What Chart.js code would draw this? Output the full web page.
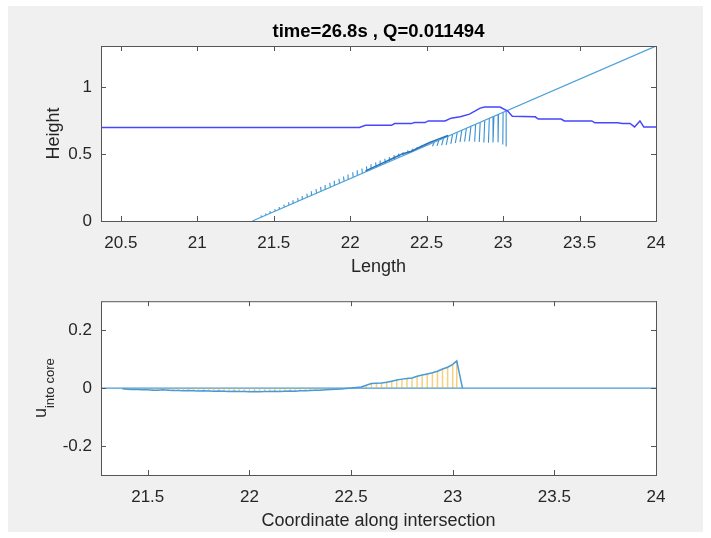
<!DOCTYPE html>
<html>
<head>
<meta charset="utf-8">
<script src="https://cdn.jsdelivr.net/npm/chart.js@4.4.1/dist/chart.umd.min.js"></script>
<style>
  html, body { margin: 0; padding: 0; background: #fff; }
  #fig { position: absolute; left: 8px; top: 6px; width: 695px; height: 526px; background: #f0f0f0; }
  canvas { position: absolute; left: 0; }
  #c1 { top: 0; }
  #c2 { top: 282px; }
</style>
</head>
<body>
<div id="fig"></div>
<canvas id="c1" width="711" height="290"></canvas>
<canvas id="c2" width="711" height="256"></canvas>
<script>
var plotTitle = 'time=26.8s , Q=0.011494';

// upper panel: free surface height and sloping bed
var heightX = [20.37, 22.06, 22.10, 22.27, 22.29, 22.40, 22.42, 22.49, 22.51, 22.62, 22.66, 22.72, 22.78, 22.85, 22.88, 22.98,
               23.03, 23.06, 23.21, 23.23, 23.38, 23.40, 23.58, 23.60, 23.75, 23.78, 23.83, 23.86, 23.895, 23.92, 24.0];
var heightY = [0.70, 0.70, 0.716, 0.716, 0.729, 0.729, 0.737, 0.737, 0.749, 0.749, 0.77, 0.78, 0.80, 0.845, 0.853, 0.853,
               0.823, 0.784, 0.78, 0.763, 0.763, 0.749, 0.749, 0.735, 0.735, 0.73, 0.73, 0.704, 0.749, 0.704, 0.704];
var bedX = [21.36, 24.0];
var bedY = [0, 1.31];
var surfX = [22.10, 22.20, 22.28, 22.34, 22.40, 22.46, 22.52, 22.58, 22.64];
var surfY = [0.375, 0.428, 0.470, 0.502, 0.522, 0.556, 0.588, 0.615, 0.640];

// velocity hairs: start on the bed, end at (hairX1, hairY1)
var hairX  = [21.42, 21.45, 21.48, 21.51, 21.54, 21.57, 21.60, 21.63, 21.66, 21.69, 21.72, 21.75, 21.78, 21.81, 21.84, 21.87,
              21.90, 21.93, 21.96, 21.99, 22.02, 22.05, 22.08, 22.11, 22.14, 22.17, 22.20, 22.23, 22.26, 22.29, 22.32, 22.35,
              22.38, 22.41, 22.44, 22.47, 22.50,
              22.55, 22.58, 22.61, 22.64, 22.67, 22.70, 22.73, 22.76, 22.79, 22.82, 22.85, 22.88, 22.91, 22.94, 22.97, 23.00, 23.02];
var hairY0 = [0.030, 0.045, 0.060, 0.074, 0.089, 0.104, 0.119, 0.134, 0.149, 0.164, 0.179, 0.194, 0.208, 0.223, 0.238, 0.253,
              0.268, 0.283, 0.298, 0.313, 0.328, 0.342, 0.357, 0.372, 0.387, 0.402, 0.417, 0.432, 0.447, 0.462, 0.476, 0.491,
              0.506, 0.521, 0.536, 0.551, 0.566,
              0.591, 0.605, 0.620, 0.635, 0.650, 0.665, 0.680, 0.695, 0.710, 0.725, 0.739, 0.754, 0.769, 0.784, 0.799, 0.814, 0.824];
var hairX1 = [21.416, 21.446, 21.476, 21.506, 21.536, 21.566, 21.596, 21.626, 21.656, 21.686, 21.716, 21.746, 21.776, 21.806, 21.836, 21.866,
              21.896, 21.926, 21.956, 21.986, 22.016, 22.046, 22.076, 22.106, 22.136, 22.166, 22.196, 22.226, 22.256, 22.286, 22.316, 22.346,
              22.376, 22.406, 22.436, 22.466, 22.496,
              22.538, 22.568, 22.598, 22.628, 22.658, 22.688, 22.718, 22.748, 22.778, 22.814, 22.844, 22.874, 22.904, 22.934, 22.967, 22.998, 23.02];
var hairY1 = [0.042, 0.057, 0.074, 0.089, 0.105, 0.122, 0.139, 0.156, 0.172, 0.188, 0.205, 0.222, 0.238, 0.255, 0.270, 0.286,
              0.302, 0.316, 0.333, 0.349, 0.364, 0.380, 0.393, 0.409, 0.424, 0.439, 0.452, 0.466, 0.480, 0.493, 0.504, 0.515,
              0.528, 0.540, 0.552, 0.564, 0.578,
              0.560, 0.562, 0.566, 0.570, 0.578, 0.584, 0.590, 0.594, 0.596, 0.594, 0.592, 0.588, 0.586, 0.588, 0.590, 0.572, 0.558];

var lenTicks = [20.5, 21, 21.5, 22, 22.5, 23, 23.5, 24];
var lenTickLabels = ['20.5', '21', '21.5', '22', '22.5', '23', '23.5', '24'];
var heightTicks = [0, 0.5, 1];
var heightTickLabels = ['0', '0.5', '1'];

// lower panel: velocity into core along the intersection
var uX = [21.375, 21.4, 21.425, 21.45, 21.475, 21.5, 21.525, 21.55, 21.575, 21.6, 21.625, 21.65, 21.675, 21.7, 21.725, 21.75,
          21.775, 21.8, 21.825, 21.85, 21.875, 21.9, 21.925, 21.95, 21.975, 22.0, 22.025, 22.05, 22.075, 22.1, 22.125, 22.15,
          22.175, 22.2, 22.225, 22.25, 22.275, 22.3, 22.325, 22.35, 22.375, 22.4, 22.425, 22.45, 22.475, 22.5,
          22.525, 22.55, 22.575, 22.6, 22.625, 22.65, 22.675, 22.7, 22.725, 22.75, 22.775, 22.8, 22.825, 22.85, 22.875, 22.9,
          22.925, 22.95, 22.975, 23.0, 23.02, 23.048];
var uVal = [-0.002, -0.004, -0.005, -0.005, -0.006, -0.006, -0.007, -0.007, -0.006, -0.007, -0.008, -0.008, -0.009, -0.008, -0.009, -0.010,
            -0.009, -0.010, -0.011, -0.010, -0.011, -0.012, -0.011, -0.012, -0.012, -0.013, -0.012, -0.013, -0.012, -0.012, -0.011, -0.012,
            -0.011, -0.010, -0.011, -0.009, -0.009, -0.008, -0.007, -0.007, -0.006, -0.005, -0.004, -0.003, -0.001, 0.000,
            0.002, 0.004, 0.010, 0.016, 0.017, 0.018, 0.020, 0.024, 0.028, 0.031, 0.033, 0.035, 0.041, 0.045, 0.049, 0.053,
            0.058, 0.066, 0.072, 0.082, 0.094, 0];
var zeroX = [21.27, 24];
var coordTicks = [21.5, 22, 22.5, 23, 23.5, 24];
var coordTickLabels = ['21.5', '22', '22.5', '23', '23.5', '24'];
var uTicks = [-0.2, 0, 0.2];
var uTickLabels = ['-0.2', '0', '0.2'];

Chart.defaults.font.family = '"Liberation Sans", Arial, sans-serif';
Chart.defaults.color = '#262626';

function pts(xs, ys) {
  return xs.map(function (x, i) { return { x: x, y: ys[i] }; });
}

// white axes background, box outline and inward tick marks
var axesBox = {
  id: 'axesBox',
  beforeDraw: function (chart) {
    var a = chart.chartArea, ctx = chart.ctx;
    ctx.save();
    ctx.fillStyle = '#ffffff';
    ctx.fillRect(a.left, a.top, a.right - a.left, a.bottom - a.top);
    ctx.restore();
  },
  afterDraw: function (chart) {
    var a = chart.chartArea, ctx = chart.ctx;
    var sx = chart.scales.x, sy = chart.scales.y;
    ctx.save();
    ctx.strokeStyle = '#555555';
    ctx.lineWidth = 1;
    ctx.beginPath();
    sx.ticks.forEach(function (t) {
      var px = Math.round(sx.getPixelForValue(t.value)) + 0.5;
      ctx.moveTo(px, a.bottom); ctx.lineTo(px, a.bottom - 5);
      ctx.moveTo(px, a.top); ctx.lineTo(px, a.top + 5);
    });
    sy.ticks.forEach(function (t) {
      var py = Math.round(sy.getPixelForValue(t.value)) + 0.5;
      ctx.moveTo(a.left, py); ctx.lineTo(a.left + 5, py);
      ctx.moveTo(a.right, py); ctx.lineTo(a.right - 5, py);
    });
    ctx.stroke();
    ctx.strokeRect(a.left + 0.5, a.top + 0.5, a.right - a.left, a.bottom - a.top);
    ctx.restore();
  }
};

var panelTitle = {
  id: 'panelTitle',
  afterDraw: function (chart, args, opts) {
    if (!opts.text) return;
    var a = chart.chartArea, ctx = chart.ctx;
    ctx.save();
    ctx.font = 'bold 18.5px "Liberation Sans", Arial, sans-serif';
    ctx.fillStyle = '#000';
    ctx.textAlign = 'center';
    ctx.textBaseline = 'middle';
    ctx.fillText(opts.text, (a.left + a.right) / 2, opts.y);
    ctx.restore();
  }
};

// y label with subscript: u_{into core}
var subLabel = {
  id: 'subLabel',
  afterDraw: function (chart, args, opts) {
    if (!opts.main) return;
    var a = chart.chartArea, ctx = chart.ctx;
    ctx.save();
    ctx.fillStyle = '#262626';
    ctx.font = '18px "Liberation Sans", Arial, sans-serif';
    var w1 = ctx.measureText(opts.main).width;
    ctx.font = '13px "Liberation Sans", Arial, sans-serif';
    var w2 = ctx.measureText(opts.sub).width;
    ctx.translate(opts.x, (a.top + a.bottom) / 2);
    ctx.rotate(-Math.PI / 2);
    var x0 = -(w1 + w2) / 2;
    ctx.textAlign = 'left';
    ctx.textBaseline = 'alphabetic';
    ctx.font = '18px "Liberation Sans", Arial, sans-serif';
    ctx.fillText(opts.main, x0, 0);
    ctx.font = '13px "Liberation Sans", Arial, sans-serif';
    ctx.fillText(opts.sub, x0 + w1, 8);
    ctx.restore();
  }
};

function segments(x0, y0, x1, y1) {
  var out = [];
  for (var i = 0; i < x0.length; i++) {
    out.push({ x: x0[i], y: y0[i] }, { x: x1[i], y: y1[i] }, { x: x1[i], y: null });
  }
  return out;
}

function linearAxis(min, max, ticks, labels, fitSize, horizontal) {
  return {
    type: 'linear', min: min, max: max,
    afterBuildTicks: function (s) { s.ticks = ticks.map(function (v) { return { value: v }; }); },
    afterFit: function (s) { if (horizontal) s.height = fitSize; else s.width = fitSize; },
    grid: { display: false, drawTicks: false },
    border: { display: false },
    ticks: {
      autoSkip: false, maxRotation: 0, font: { size: 17 }, color: '#262626',
      padding: horizontal ? 12 : 9,
      callback: function (v, i) { return labels[i]; }
    }
  };
}

var x1Axis = linearAxis(20.37, 24, lenTicks, lenTickLabels, 69, true);
x1Axis.title = { display: true, text: 'Length', font: { size: 18 }, color: '#262626', padding: { top: 0, bottom: 12 } };
var y1Axis = linearAxis(0, 1.31, heightTicks, heightTickLabels, 101, false);
y1Axis.title = { display: true, text: 'Height', font: { size: 18 }, color: '#262626', padding: { top: 43, bottom: 0 } };

new Chart(document.getElementById('c1'), {
  type: 'scatter',
  data: {
    datasets: [
      { data: pts(heightX, heightY), showLine: true, borderColor: '#4646ff', borderWidth: 1.5, pointRadius: 0, order: 0 },
      { data: pts(bedX, bedY), showLine: true, borderColor: '#4ea2da', borderWidth: 1.2, pointRadius: 0, order: 2 },
      { data: pts(surfX, surfY), showLine: true, borderColor: '#2a70b8', borderWidth: 1.5, pointRadius: 0, order: 1 },
      { data: segments(hairX, hairY0, hairX1, hairY1), showLine: true, spanGaps: false,
        borderColor: '#3a90d0', borderWidth: 1.1, pointRadius: 0, order: 3 }
    ]
  },
  options: {
    responsive: false, animation: false,
    layout: { padding: { top: 46, right: 55, left: 0, bottom: 0 } },
    plugins: {
      legend: { display: false }, tooltip: { enabled: false },
      panelTitle: { text: plotTitle, y: 32 }
    },
    scales: { x: x1Axis, y: y1Axis }
  },
  plugins: [axesBox, panelTitle]
});

var x2Axis = linearAxis(21.27, 24, coordTicks, coordTickLabels, 63, true);
x2Axis.title = { display: true, text: 'Coordinate along intersection', font: { size: 18 }, color: '#262626', padding: { top: 0, bottom: 6 } };
var y2Axis = linearAxis(-0.3, 0.3, uTicks, uTickLabels, 101, false);

new Chart(document.getElementById('c2'), {
  type: 'scatter',
  data: {
    datasets: [
      { data: pts(uX, uVal), showLine: true, borderColor: '#4a9ad6', borderWidth: 1.5, pointRadius: 0, order: 0 },
      { data: segments(uX, uX.map(function () { return 0; }), uX, uVal), showLine: true, spanGaps: false,
        borderColor: 'rgba(240,176,40,0.6)', borderWidth: 1.5, pointRadius: 0, order: 1 },
      { data: pts(zeroX, [0, 0]), showLine: true, borderColor: '#4a9ad6', borderWidth: 1.2, pointRadius: 0, order: 2 }
    ]
  },
  options: {
    responsive: false, animation: false,
    layout: { padding: { top: 5, right: 55, left: 0, bottom: 0 } },
    plugins: {
      legend: { display: false }, tooltip: { enabled: false },
      subLabel: { main: 'u', sub: 'into core', x: 46 }
    },
    scales: { x: x2Axis, y: y2Axis }
  },
  plugins: [axesBox, subLabel]
});
</script>
</body>
</html>
